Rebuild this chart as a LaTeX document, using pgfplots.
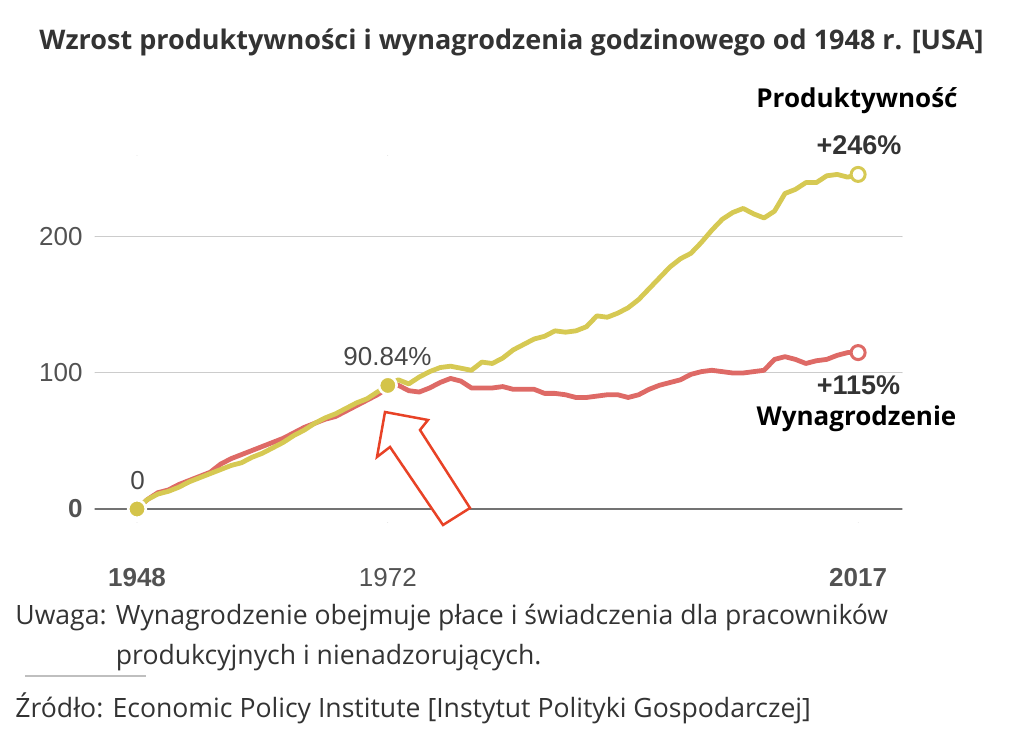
\documentclass[border=0pt]{standalone}
\usepackage{pgfplots}
\pgfplotsset{compat=1.18}
\usepackage{fontspec}
\setmainfont{Open Sans}
\newfontfamily\arial{Liberation Sans}

\definecolor{prodc}{RGB}{214,201,83}
\definecolor{wagec}{RGB}{222,106,102}
\definecolor{dotc}{RGB}{212,196,74}
\definecolor{arrowc}{RGB}{232,66,38}
\definecolor{txt}{RGB}{51,51,51}

% Productivity growth since 1948, percent
\pgfplotstableread{
year val
1948 0
1949 7
1950 11
1951 13
1952 16
1953 20
1954 23
1955 26
1956 29
1957 32
1958 34
1959 38
1960 41
1961 45
1962 49
1963 54
1964 58
1965 63
1966 67
1967 70
1968 74
1969 78
1970 81
1971 86
1972 90.84
1973 95
1974 92
1975 97
1976 101
1977 104
1978 105
1979 103.5
1980 102
1981 108
1982 107
1983 111
1984 117
1985 121
1986 125
1987 127
1988 131
1989 130
1990 131
1991 134
1992 142
1993 141
1994 144
1995 148
1996 154
1997 162
1998 170
1999 178
2000 184
2001 188
2002 196
2003 205
2004 213
2005 218
2006 221
2007 217
2008 214
2009 219
2010 232
2011 235
2012 240
2013 240
2014 245
2015 246
2016 244
2017 246
}\prodtable

% Hourly compensation growth since 1948, percent
\pgfplotstableread{
year val
1948 0
1949 7
1950 12
1951 14
1952 18
1953 21
1954 24
1955 27
1956 33
1957 37
1958 40
1959 43
1960 46
1961 49
1962 52
1963 56
1964 60
1965 63
1966 66
1967 68
1968 72
1969 76
1970 80
1971 84
1972 89
1973 91
1974 87
1975 86
1976 89
1977 93
1978 96
1979 94
1980 89
1981 89
1982 89
1983 90
1984 88
1985 88
1986 88
1987 85
1988 85
1989 84
1990 82
1991 82
1992 83
1993 84
1994 84
1995 82
1996 84
1997 88
1998 91
1999 93
2000 95
2001 99
2002 101
2003 102
2004 101
2005 100
2006 100
2007 101
2008 102
2009 110
2010 112
2011 110
2012 107
2013 109
2014 110
2015 113
2016 115
2017 115
}\wagetable

\begin{document}
\begin{tikzpicture}
\useasboundingbox (0,0) rectangle (512pt,372pt);

\begin{axis}[
    at={(47.5pt,110.7pt)}, anchor=south west,
    scale only axis,
    width=403.5pt, height=183.6pt,
    xmin=1943.98, xmax=2021.2,
    ymin=-10, ymax=260,
    clip=false,
    axis line style={draw=none},
    major tick length=0pt,
    xtick={1948,1972,2017},
    xticklabels={\textbf{1948},1972,\textbf{2017}},
    ytick={100,200},
    yticklabels={100,200},
    extra y ticks={0},
    extra y tick labels={\textbf{0}},
    extra y tick style={grid style={draw=black!55, line width=0.6pt}},
    ymajorgrids,
    grid style={draw=black!20, line width=0.5pt},
    tick label style={font=\arial\fontsize{13}{15}\selectfont, text=txt!85!white, inner sep=0pt},
    yticklabel style={anchor=east, xshift=-6pt},
    xticklabel style={anchor=north, yshift=-22.7pt},
    line join=round, line cap=round,
]
\addplot[wagec, line width=2.4pt, no marks] table[x=year, y=val] {\wagetable};
\addplot[prodc, line width=2.4pt, no marks] table[x=year, y=val] {\prodtable};
% end points
\addplot[only marks, mark=*, mark size=3.5pt, mark options={fill=white, draw=prodc, line width=1.5pt}] coordinates {(2017,246)};
\addplot[only marks, mark=*, mark size=3.5pt, mark options={fill=white, draw=wagec, line width=1.5pt}] coordinates {(2017,115)};
% highlighted points
\addplot[only marks, mark=*, mark size=4.4pt, mark options={fill=dotc, draw=white, line width=1.3pt}] coordinates {(1948,0) (1972,90.84)};
\end{axis}

% arrow
\draw[arrowc, line width=1.25pt, fill=white, line join=miter]
  (192.5pt,166pt) -- (214pt,162pt) -- (210pt,157pt) -- (235pt,118pt)
  -- (221.5pt,109.5pt) -- (195pt,148.5pt) -- (188.5pt,143.5pt) -- cycle;

% title
\node[anchor=base, text=txt, font=\bfseries\fontsize{13.5}{15}\selectfont, inner sep=0pt]
  at (255.75pt,347pt) {Wzrost produktywności i wynagrodzenia godzinowego od 1948 r. [USA]};

% series labels
\node[anchor=base, font=\bfseries\fontsize{13}{15}\selectfont, inner sep=0pt] at (428.5pt,318pt) {Produktywność};
\node[anchor=base, text=txt, font=\arial\bfseries\fontsize{13.5}{15}\selectfont, inner sep=0pt] at (429.5pt,294.5pt) {+246\%};
\node[anchor=base, text=txt, font=\arial\bfseries\fontsize{13.5}{15}\selectfont, inner sep=0pt] at (429.25pt,174.5pt) {+115\%};
\node[anchor=base, font=\bfseries\fontsize{13}{15}\selectfont, inner sep=0pt] at (428.25pt,159pt) {Wynagrodzenie};

% point labels
\node[anchor=base, text=txt!90!white, font=\arial\fontsize{13}{15}\selectfont, inner sep=0pt] at (193.75pt,189pt) {90.84\%};
\node[anchor=base, text=txt!90!white, font=\arial\fontsize{13}{15}\selectfont, inner sep=0pt] at (68.75pt,127pt) {0};

% notes
\node[anchor=base west, text=txt, font=\fontsize{13.3}{15}\selectfont, inner sep=0pt] at (7.5pt,59.5pt)
  {Uwaga: Wynagrodzenie obejmuje płace i świadczenia dla pracowników};
\node[anchor=base west, text=txt, font=\fontsize{13.3}{15}\selectfont, inner sep=0pt] at (7.5pt,39.5pt)
  {\hphantom{Uwaga: }produkcyjnych i nienadzorujących.};
\draw[black!25, line width=1.2pt] (12.5pt,34pt) -- (73pt,34pt);
\node[anchor=base west, text=txt, font=\fontsize{13.3}{15}\selectfont, inner sep=0pt] at (7.5pt,13pt)
  {Źródło: Economic Policy Institute [Instytut Polityki Gospodarczej]};
\end{tikzpicture}
\end{document}
